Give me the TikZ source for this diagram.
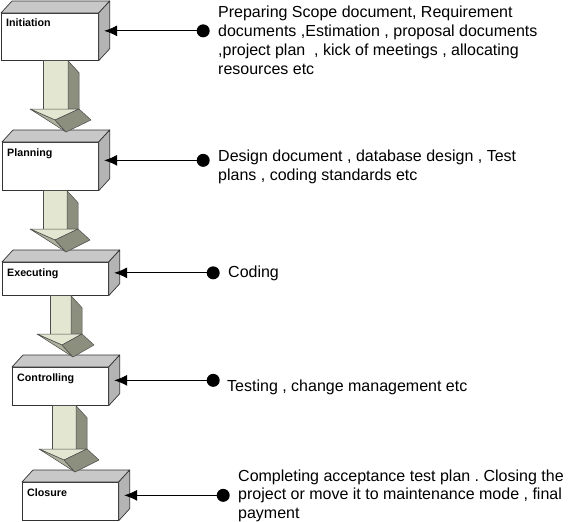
\documentclass[tikz,border=0pt]{standalone}
\usepackage{fontspec}
\setmainfont{Liberation Sans}
\usetikzlibrary{
  arrows.meta,
  calc
}
\frenchspacing

\definecolor{facetop}{HTML}{C8C8C8}
\definecolor{faceside}{HTML}{B4B4B4}
\definecolor{arrowlight}{HTML}{E3E6D1}
\definecolor{arrowmid}{HTML}{ADB09D}
\definecolor{arrowdark}{HTML}{8D8F7E}

% 3D block arrow from one stage to the next: #1 from, #2 to, #3 x offset, #4 shaft width
\newcommand\stagearrow[4]{%
  \path (#1.south west) ++(#3,0) coordinate (#1-top)
        ($(#1-top |- #2.north)+(0,-33)$) coordinate (#1-bot);
  \filldraw[arrowface, fill=arrowlight] (#1-top) rectangle ([xshift=#4]#1-bot);
  \filldraw[arrowface, fill=arrowdark] ([xshift=#4]#1-top) -- ([shift={(#4+11,12)}]#1-top)
    -- ([xshift=#4+11]#1-bot) -- ([xshift=#4]#1-bot) -- cycle;
  \filldraw[arrowface, fill=arrowlight] ([xshift=-13]#1-bot) -- ([xshift=#4+11]#1-bot)
    -- ([shift={(12,11)}]#1-bot) -- cycle;
  \filldraw[arrowface, fill=arrowmid] ([xshift=-13]#1-bot) -- ([shift={(12,11)}]#1-bot)
    -- ([shift={(23,23)}]#1-bot) -- cycle;
  \filldraw[arrowface, fill=arrowdark] ([shift={(12,11)}]#1-bot) -- ([xshift=#4+11]#1-bot)
    -- ([shift={(#4+23,11)}]#1-bot) -- ([shift={(23,23)}]#1-bot) -- cycle;
}

\begin{document}
\begin{tikzpicture}[
  x=1pt, y=-1pt,
  stage/.style={draw=black!80, fill=white, anchor=north west, inner sep=0pt,
    line width=.7pt,
    label={[stagelabel]north west:#1}},
  stagelabel/.style={anchor=base west, inner sep=0pt, xshift=5pt, yshift=-14pt,
    font=\fontsize{10.7}{12}\selectfont\bfseries},
  topface/.style={draw=black!80, fill=facetop, line width=.7pt, line join=round},
  sideface/.style={draw=black!80, fill=faceside, line width=.7pt, line join=round},
  arrowface/.style={draw=black!70, line width=.5pt, line join=round},
  dot/.style={circle, fill=black, inner sep=0pt, minimum size=13pt},
  conn/.style={-{Latex[length=13pt,width=11pt]}, line width=.8pt},
  note/.style={anchor=base west, inner sep=0pt, align=left,
    font=\fontsize{16}{19}\selectfont},
]
\useasboundingbox (0,0) rectangle (568,522);

% stages
\node[stage=Initiation, minimum width=97pt, minimum height=47pt] (init) at (1,13) {};
\node[stage=Planning, minimum width=96pt, minimum height=48pt] (plan) at (2,142) {};
\node[stage=Executing, minimum width=106pt, minimum height=33pt] (exec) at (2,262) {};
\node[stage=Controlling, minimum width=96pt, minimum height=38pt] (ctrl) at (12,367) {};
\node[stage=Closure, minimum width=96pt, minimum height=38pt] (close) at (22,482) {};

\foreach \n in {init,plan,exec,ctrl,close} {
  \draw[topface] (\n.north west) -- ([shift={(11,-12)}]\n.north west)
    -- ([shift={(11,-12)}]\n.north east) -- (\n.north east) -- cycle;
  \draw[sideface] (\n.north east) -- ([shift={(11,-12)}]\n.north east)
    -- ([shift={(11,-12)}]\n.south east) -- (\n.south east) -- cycle;
  \coordinate (\n-in) at ([shift={(5.5,-6)}]\n.east);
  \node[dot] (\n-dot) at ([xshift=99pt]\n-in) {};
  \draw[conn] (\n-dot) -- (\n-in);
}

\stagearrow{init}{plan}{42}{25}
\stagearrow{plan}{exec}{41}{24}
\stagearrow{exec}{ctrl}{48}{21}
\stagearrow{ctrl}{close}{40}{24}

% notes (placed at the baseline of their last line)
\node[note] (init-txt) at (218,74) {Preparing Scope document, Requirement\\
  documents ,Estimation , proposal documents\\
  ,project plan~~, kick of meetings , allocating\\
  resources etc};
\node[note] (plan-txt) at (218,180) {Design document , database design , Test\\
  plans , coding standards etc};
\node[note] (exec-txt) at (228,277) {Coding};
\node[note] (ctrl-txt) at (227,391) {Testing , change management etc};
\node[note, font=\fontsize{16}{18.3}\selectfont] (close-txt) at (238,518)
  {Completing acceptance test plan . Closing the\\
  project or move it to maintenance mode , final\\
  payment};
\end{tikzpicture}
\end{document}
